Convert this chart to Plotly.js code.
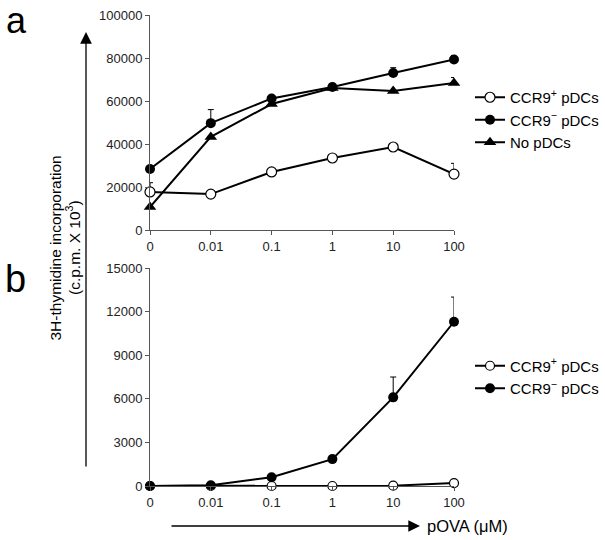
<!DOCTYPE html>
<html><head><meta charset="utf-8">
<script src="https://cdn.plot.ly/plotly-3.0.1.min.js"></script>
<style>body{margin:0;background:#fff}</style>
</head><body>
<div id="chart" style="width:605px;height:540px"></div>
<script>
const doses = ['0', '0.01', '0.1', '1', '10', '100'];
// Panel a
const aPlus = [17700, 16700, 27000, 33500, 38600, 26000];
const aPlusErr = [4300, 0, 0, 0, 0, 5000];
const aMinus = [28400, 49700, 61200, 66500, 73000, 79300];
const aMinusErr = [0, 6300, 0, 1500, 2500, 1800];
const aNone = [10700, 43300, 58600, 66000, 64700, 68400];
const aNoneErr = [0, 0, 0, 0, 0, 2500];
// Panel b
const bPlus = [0, 0, 0, 0, 20, 200];
const bMinus = [0, 50, 600, 1850, 6100, 11300];
const bMinusErr = [0, 0, 0, 0, 1400, 1700];
const yTicksA = [0, 20000, 40000, 60000, 80000, 100000];
const yTicksB = [0, 3000, 6000, 9000, 12000, 15000];

const idx = doses.map((d, i) => i);
const W = 605, H = 540;
const px = v => v / W, py = v => 1 - v / H;
const FAM = 'Liberation Sans, Arial, sans-serif';
const lineBlack = {color: '#000', width: 2};
function err(arr) { return {type: 'data', symmetric: false, array: arr, arrayminus: arr.map(() => 0), color: '#000', thickness: 1, width: 3}; }

const traces = [
  {x: idx, y: aPlus, name: 'CCR9<sup>+</sup> pDCs', mode: 'lines+markers', line: lineBlack,
   marker: {symbol: 'circle', size: 10, color: '#fff', line: {color: '#000', width: 1.2}},
   error_y: err(aPlusErr), xaxis: 'x', yaxis: 'y', legend: 'legend', cliponaxis: false},
  {x: idx, y: aMinus, name: 'CCR9<sup>−</sup> pDCs', mode: 'lines+markers', line: lineBlack,
   marker: {symbol: 'circle', size: 10, color: '#000'},
   error_y: err(aMinusErr), xaxis: 'x', yaxis: 'y', legend: 'legend', cliponaxis: false},
  {x: idx, y: aNone, name: 'No pDCs', mode: 'lines+markers', line: lineBlack,
   marker: {symbol: 'triangle-up', size: 11, color: '#000'},
   error_y: err(aNoneErr), xaxis: 'x', yaxis: 'y', legend: 'legend', cliponaxis: false},
  {x: idx, y: bPlus, name: 'CCR9<sup>+</sup> pDCs', mode: 'lines+markers', line: lineBlack,
   marker: {symbol: 'circle', size: 9, color: '#fff', line: {color: '#000', width: 1.2}},
   xaxis: 'x2', yaxis: 'y2', legend: 'legend2', cliponaxis: false},
  {x: idx, y: bMinus, name: 'CCR9<sup>−</sup> pDCs', mode: 'lines+markers', line: lineBlack,
   marker: {symbol: 'circle', size: 10, color: '#000'},
   error_y: err(bMinusErr), xaxis: 'x2', yaxis: 'y2', legend: 'legend2', cliponaxis: false}
];

const tickFont = {family: FAM, size: 13, color: '#222'};
function xax(anchor) {
  return {domain: [px(150), px(454)], range: [0, 5], anchor: anchor, showgrid: false, zeroline: false,
    showline: true, linecolor: '#555', linewidth: 1, ticks: 'outside', ticklen: 4, tickcolor: '#555',
    tickvals: idx, ticktext: doses, tickfont: tickFont, fixedrange: true};
}
function yax(anchor, dom, rng, tv) {
  return {domain: dom, range: rng, anchor: anchor, showgrid: false, zeroline: false,
    showline: true, linecolor: '#555', linewidth: 1, ticks: 'outside', ticklen: 4, tickcolor: '#555',
    tickvals: tv, ticktext: tv.map(String), tickfont: tickFont, fixedrange: true};
}
const legFont = {family: FAM, size: 15, color: '#000'};
const layout = {
  width: W, height: H, margin: {l: 0, r: 0, t: 0, b: 0},
  paper_bgcolor: '#fff', plot_bgcolor: '#fff', showlegend: true,
  xaxis: xax('y'),
  yaxis: yax('x', [py(230), py(15)], [0, 100000], yTicksA),
  xaxis2: xax('y2'),
  yaxis2: yax('x2', [py(486), py(268)], [0, 15000], yTicksB),
  legend: {x: px(470), y: py(120), xanchor: 'left', yanchor: 'middle', font: legFont,
    bgcolor: 'rgba(0,0,0,0)', itemwidth: 30, tracegroupgap: 0},
  legend2: {x: px(470), y: py(377), xanchor: 'left', yanchor: 'middle', font: legFont,
    bgcolor: 'rgba(0,0,0,0)', itemwidth: 30, tracegroupgap: 0},
  annotations: [
    {xref: 'paper', yref: 'paper', x: px(4), y: py(21), text: 'a', showarrow: false,
     xanchor: 'left', yanchor: 'middle', font: {family: FAM, size: 36, color: '#000'}},
    {xref: 'paper', yref: 'paper', x: px(3), y: py(279), text: 'b', showarrow: false,
     xanchor: 'left', yanchor: 'middle', font: {family: FAM, size: 38, color: '#000'}},
    {xref: 'paper', yref: 'paper', x: px(44), y: py(248), text: '3H-thymidine incorporation', textangle: -90,
     showarrow: false, font: {family: FAM, size: 15.5, color: '#000'}},
    {xref: 'paper', yref: 'paper', x: px(61), y: py(248), text: '(c.p.m. X 10<sup>3</sup>)', textangle: -90,
     showarrow: false, font: {family: FAM, size: 15.5, color: '#000'}},
    {xref: 'paper', yref: 'paper', x: px(86), y: py(32), text: '', showarrow: true,
     axref: 'pixel', ayref: 'pixel', ax: 0, ay: 436, arrowhead: 2, arrowsize: 1.8, arrowwidth: 1.3, arrowcolor: '#000'},
    {xref: 'paper', yref: 'paper', x: px(420), y: py(526), text: '', showarrow: true,
     axref: 'pixel', ayref: 'pixel', ax: -250, ay: 0, arrowhead: 2, arrowsize: 1.8, arrowwidth: 1.3, arrowcolor: '#000'},
    {xref: 'paper', yref: 'paper', x: px(425), y: py(526), text: 'pOVA (μM)', showarrow: false,
     xanchor: 'left', yanchor: 'middle', font: {family: FAM, size: 16.5, color: '#000'}}
  ]
};
Plotly.newPlot('chart', traces, layout, {displayModeBar: false, staticPlot: true});
</script>
</body></html>
